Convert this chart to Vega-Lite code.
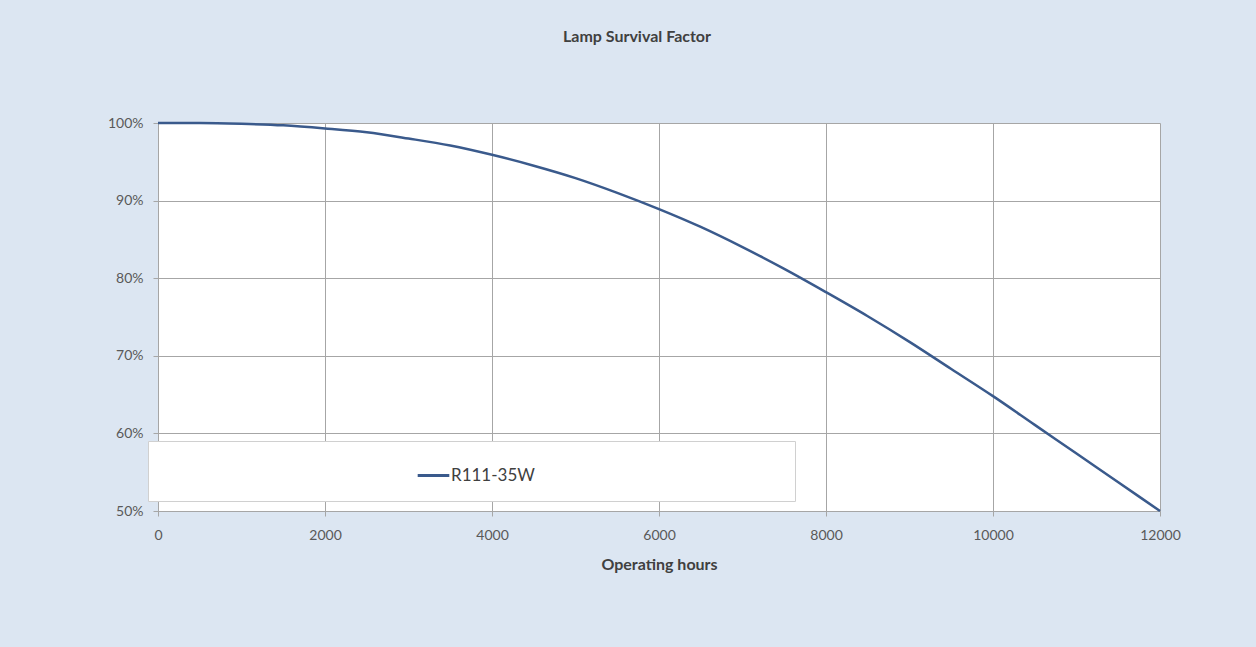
{
  "$schema": "https://vega.github.io/schema/vega-lite/v6.json",
  "width": 1002,
  "height": 388,
  "autosize": {"type": "none"},
  "padding": {"left": 158, "top": 123, "right": 96, "bottom": 136},
  "background": "#dce6f2",
  "title": {
    "text": "Lamp Survival Factor",
    "anchor": "middle",
    "frame": "group",
    "dx": -22,
    "offset": 71,
    "fontSize": 16,
    "fontWeight": "bold",
    "font": "Lato",
    "color": "#404040"
  },
  "data": {
    "values": [
      {"hours": 0, "survival": 1.0, "series": "R111-35W"},
      {"hours": 500, "survival": 1.0, "series": "R111-35W"},
      {"hours": 1000, "survival": 0.999, "series": "R111-35W"},
      {"hours": 1500, "survival": 0.997, "series": "R111-35W"},
      {"hours": 2000, "survival": 0.993, "series": "R111-35W"},
      {"hours": 2500, "survival": 0.988, "series": "R111-35W"},
      {"hours": 3000, "survival": 0.980, "series": "R111-35W"},
      {"hours": 3500, "survival": 0.971, "series": "R111-35W"},
      {"hours": 4000, "survival": 0.959, "series": "R111-35W"},
      {"hours": 4500, "survival": 0.945, "series": "R111-35W"},
      {"hours": 5000, "survival": 0.929, "series": "R111-35W"},
      {"hours": 5500, "survival": 0.910, "series": "R111-35W"},
      {"hours": 6000, "survival": 0.889, "series": "R111-35W"},
      {"hours": 6500, "survival": 0.866, "series": "R111-35W"},
      {"hours": 7000, "survival": 0.840, "series": "R111-35W"},
      {"hours": 7500, "survival": 0.812, "series": "R111-35W"},
      {"hours": 8000, "survival": 0.782, "series": "R111-35W"},
      {"hours": 8500, "survival": 0.751, "series": "R111-35W"},
      {"hours": 9000, "survival": 0.718, "series": "R111-35W"},
      {"hours": 9500, "survival": 0.683, "series": "R111-35W"},
      {"hours": 10000, "survival": 0.648, "series": "R111-35W"},
      {"hours": 10500, "survival": 0.611, "series": "R111-35W"},
      {"hours": 11000, "survival": 0.574, "series": "R111-35W"},
      {"hours": 11500, "survival": 0.537, "series": "R111-35W"},
      {"hours": 12000, "survival": 0.500, "series": "R111-35W"}
    ]
  },
  "mark": {"type": "line", "strokeWidth": 2.5, "interpolate": "monotone"},
  "encoding": {
    "x": {
      "field": "hours",
      "type": "quantitative",
      "scale": {"domain": [0, 12000], "nice": false},
      "axis": {
        "title": "Operating hours",
        "values": [0, 2000, 4000, 6000, 8000, 10000, 12000],
        "format": "d",
        "labelFlush": false,
        "labelPadding": 12,
        "titlePadding": 14
      }
    },
    "y": {
      "field": "survival",
      "type": "quantitative",
      "scale": {"domain": [0.5, 1.0], "nice": false, "zero": false},
      "axis": {
        "title": null,
        "values": [0.5, 0.6, 0.7, 0.8, 0.9, 1.0],
        "format": ".0%",
        "labelFlush": false,
        "labelPadding": 10
      }
    },
    "color": {
      "field": "series",
      "type": "nominal",
      "scale": {"range": ["#3a5a8c"]},
      "legend": {
        "title": " ",
        "titleOrient": "right",
        "titleFontSize": 10,
        "titlePadding": 243,
        "orient": "none",
        "legendX": -10,
        "legendY": 318,
        "padding": 17,
        "symbolType": "stroke",
        "symbolStrokeWidth": 3,
        "symbolSize": 1000,
        "symbolOffset": 251,
        "labelOffset": 0,
        "fillColor": "white",
        "strokeColor": "#d0d0d0",
        "labelFontSize": 17,
        "labelFont": "Lato",
        "labelColor": "#404040"
      }
    }
  },
  "config": {
    "view": {"fill": "white", "stroke": null},
    "axis": {
      "grid": true,
      "gridColor": "#a6a6a6",
      "gridWidth": 1,
      "domainColor": "#a6a6a6",
      "tickColor": "#a6a6a6",
      "tickSize": 5,
      "labelFont": "Lato",
      "labelFontSize": 14,
      "labelColor": "#595959",
      "titleFont": "Lato",
      "titleFontSize": 16,
      "titleFontWeight": "bold",
      "titleColor": "#404040"
    }
  }
}
